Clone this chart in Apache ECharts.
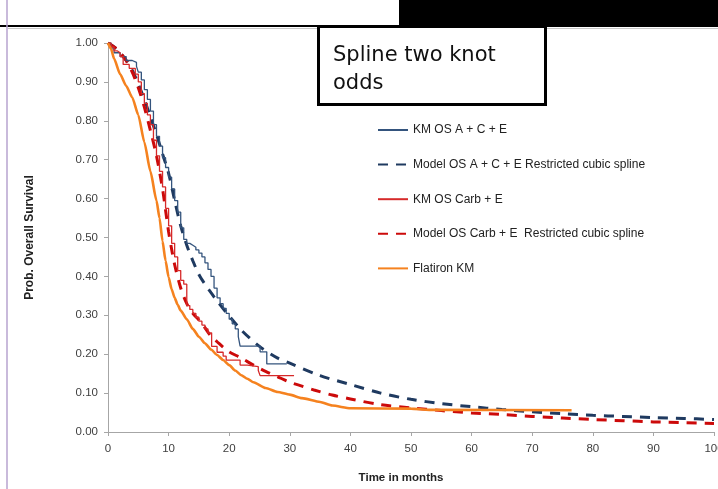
<!DOCTYPE html>
<html>
<head>
<meta charset="utf-8">
<script src="https://cdn.jsdelivr.net/npm/echarts/dist/echarts.min.js"></script>
<style>
html,body{margin:0;padding:0;background:#fff;}
#chart{width:718px;height:489px;}
</style>
</head>
<body>
<div id="chart"></div>
<script>
// ---- Data ----
const xTicks = [0,10,20,30,40,50,60,70,80,90,100];
const yTicks = [0,0.1,0.2,0.3,0.4,0.5,0.6,0.7,0.8,0.9,1.0];

const seriesNames = [
  "KM OS A + C + E",
  "Model OS A + C + E Restricted cubic spline",
  "KM OS Carb + E",
  "Model OS Carb + E  Restricted cubic spline",
  "Flatiron KM"
];

// KM OS A + C + E (step)
const kmAceT = [0,0.5,1,2,3,4,4.7,5,5.5,6,6.5,7,7.5,8,8.5,9,9.5,10,10.5,11,11.5,12,12.5,13,13.5,14,14.5,15,15.5,16,16.5,17,17.5,18,18.5,19,19.5,20,20.5,21,21.5,21.8,25.1,26.2,29.5];
const kmAceS = [1.0,0.985,0.975,0.965,0.955,0.95,0.94,0.925,0.905,0.88,0.855,0.825,0.79,0.76,0.735,0.705,0.68,0.655,0.625,0.595,0.565,0.525,0.495,0.485,0.48,0.475,0.468,0.46,0.45,0.435,0.418,0.4,0.37,0.345,0.33,0.318,0.305,0.29,0.278,0.265,0.245,0.221,0.206,0.175,0.175];

// Model OS A + C + E (smooth)
const modAceT = [0,1,2,3,4,5,6,7,8,9,10,11,12,13,14,15,16,17,18,20,22,25,28,30,35,40,45,50,55,60,65,70,75,80,85,90,95,100];
const modAceS = [1.0,0.99,0.975,0.955,0.93,0.895,0.855,0.81,0.765,0.715,0.665,0.595,0.53,0.48,0.44,0.405,0.38,0.358,0.337,0.298,0.262,0.22,0.19,0.177,0.145,0.122,0.1,0.084,0.073,0.065,0.058,0.052,0.047,0.043,0.04,0.037,0.035,0.032];

// KM OS Carb + E (step)
const kmCarbT = [0,0.5,1,1.5,2,2.5,3.5,4.5,5,5.5,6,6.5,7,7.5,8,8.5,9,9.5,10,10.5,11,11.5,12,12.5,13,13.5,14,14.5,15,15.5,16,16.5,17.1,18,19,19.5,21.8,23,24.8,25.1,30.7];
const kmCarbS = [1.0,0.99,0.98,0.975,0.965,0.945,0.935,0.92,0.9,0.87,0.845,0.815,0.79,0.75,0.71,0.67,0.63,0.575,0.53,0.485,0.45,0.415,0.39,0.38,0.325,0.315,0.305,0.295,0.285,0.275,0.265,0.255,0.22,0.205,0.195,0.185,0.172,0.168,0.158,0.145,0.145];

// Model OS Carb + E (smooth)
const modCarbT = [0,1,2,3,4,5,6,7,8,9,9.5,10,10.5,11,12,13,14,15,16,17,18,19,20,22,24,26,28,30,32,34,37,40,45,50,55,60,65,70,75,80,85,90,95,100];
const modCarbS = [1.0,0.99,0.975,0.955,0.925,0.885,0.835,0.775,0.71,0.625,0.57,0.515,0.47,0.43,0.37,0.33,0.305,0.288,0.268,0.246,0.232,0.218,0.206,0.19,0.172,0.156,0.142,0.128,0.118,0.108,0.095,0.085,0.07,0.062,0.055,0.049,0.045,0.04,0.036,0.032,0.029,0.026,0.024,0.022];

// Flatiron KM
const flatT = [0,0.5,1,2,3,4,5,6,7,8,8.5,9,9.5,10,10.5,11,11.5,12,13,14,15,16,17,18,19,20,21,22,23,24,26,28,30,32,35,37,40,50,53,76.5];
const flatS = [1.0,0.985,0.96,0.92,0.89,0.86,0.815,0.745,0.67,0.595,0.55,0.49,0.44,0.398,0.367,0.345,0.327,0.312,0.29,0.265,0.245,0.228,0.212,0.198,0.185,0.172,0.158,0.146,0.137,0.128,0.113,0.103,0.096,0.087,0.077,0.068,0.061,0.06,0.057,0.056];

const colors = ["#34547d","#1f3a60","#d62a2a","#cc0a0a","#f5821f"];

function zip(t, s){ return t.map((v,i)=>[v, s[i]]); }

const chart = echarts.init(document.getElementById('chart'), null, {renderer:'canvas'});

const lblFont = "'Liberation Sans', Arial, sans-serif";

const option = {
  animation: false,
  backgroundColor: '#ffffff',
  grid: {left:108, right:4, top:43, bottom:57, containLabel:false, outerBoundsMode:'none'},
  legend: {
    orient: 'vertical',
    left: 377, top: 123, padding: 0,
    itemWidth: 30, itemHeight: 14, itemGap: 20.6,
    itemStyle: {opacity: 0},
    textStyle: {fontSize: 12, color: '#222', fontFamily: lblFont, lineHeight: 14},
    data: seriesNames
  },
  xAxis: {
    type: 'value', min: 0, max: 100, interval: 10,
    name: 'Time in months', nameLocation: 'middle', nameGap: 40,
    nameTextStyle: {fontSize: 11.5, fontWeight: 'bold', color: '#222', fontFamily: lblFont, padding:[0,20,0,0]},
    axisLine: {lineStyle: {color: '#a6a6a6', width: 1}},
    axisTick: {show: true, length: 4, lineStyle: {color: '#a6a6a6'}},
    axisLabel: {fontSize: 11.5, color: '#404040', fontFamily: lblFont, margin: 11,
      formatter: v => String(v)},
    splitLine: {show: false}
  },
  yAxis: {
    type: 'value', min: 0, max: 1, interval: 0.1,
    name: 'Prob. Overall Survival', nameLocation: 'middle', nameGap: 72,
    nameTextStyle: {fontSize: 12, fontWeight: 'bold', color: '#222', fontFamily: lblFont},
    axisLine: {show: true, lineStyle: {color: '#a6a6a6', width: 1}},
    axisTick: {show: true, length: 4, lineStyle: {color: '#a6a6a6'}},
    axisLabel: {fontSize: 11.5, color: '#404040', fontFamily: lblFont, margin: 10,
      formatter: v => v.toFixed(2)},
    splitLine: {show: false}
  },
  graphic: [
    {type:'rect', silent:true, z:100, shape:{x:399, y:0, width:319, height:27}, style:{fill:'#000'}},
    {type:'line', silent:true, z:100, shape:{x1:0, y1:26, x2:400, y2:26}, style:{stroke:'#000', lineWidth:2}},
    {type:'line', silent:true, z:99, shape:{x1:8, y1:28.5, x2:718, y2:28.5}, style:{stroke:'#c8c8c8', lineWidth:1}},
    {type:'line', silent:true, z:100, shape:{x1:7, y1:0, x2:7, y2:489}, style:{stroke:'#b7a3cf', lineWidth:1.5}},
    {type:'rect', silent:true, z:100, shape:{x:318.5, y:26.5, width:227, height:78}, style:{fill:'#fff', stroke:'#000', lineWidth:3}},
    {type:'text', silent:true, z:101, left:333, top:42, style:{text:'Spline two knot\nodds', font:"21px 'DejaVu Sans', sans-serif", fill:'#111', lineHeight:28}}
  ],
  series: [
    {name: seriesNames[0], type:'line', step:'end', data: zip(kmAceT, kmAceS), symbol:'none',
     lineStyle:{color:colors[0], width:1.3}, itemStyle:{color:colors[0]}, z:3},
    {name: seriesNames[1], type:'line', smooth:0.3, data: zip(modAceT, modAceS), symbol:'none',
     lineStyle:{color:colors[1], width:3, type:[10,8]}, itemStyle:{color:colors[1]}, z:2},
    {name: seriesNames[2], type:'line', step:'end', data: zip(kmCarbT, kmCarbS), symbol:'none',
     lineStyle:{color:colors[2], width:1.3}, itemStyle:{color:colors[2]}, z:3},
    {name: seriesNames[3], type:'line', smooth:0.3, data: zip(modCarbT, modCarbS), symbol:'none',
     lineStyle:{color:colors[3], width:3, type:[10,8]}, itemStyle:{color:colors[3]}, z:2},
    {name: seriesNames[4], type:'line', smooth:0.2, smoothMonotone:'x', data: zip(flatT, flatS), symbol:'none',
     lineStyle:{color:colors[4], width:2.6}, itemStyle:{color:colors[4]}, z:4}
  ]
};
chart.setOption(option);
</script>
</body>
</html>
